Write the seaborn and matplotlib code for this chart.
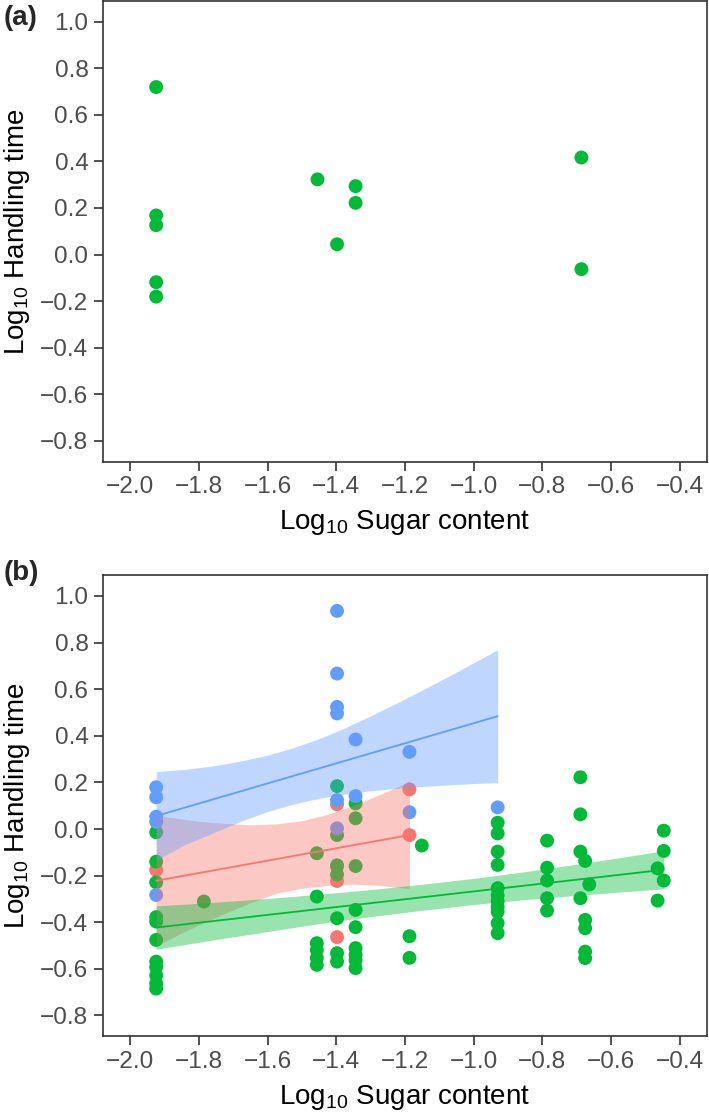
import matplotlib
matplotlib.use("Agg")
import matplotlib.pyplot as plt
import seaborn as sns
import pandas as pd

# ---------------- data ----------------
groups = ["red", "green", "blue"]
colors = {"red": "#F8766D", "green": "#00BA38", "blue": "#619CFF"}

# panel (a): green only
a_x = [-1.925, -1.925, -1.925, -1.925, -1.925, -1.455, -1.398, -1.344, -1.344, -0.686, -0.686]
a_y = [0.720, 0.168, 0.126, -0.119, -0.181, 0.323, 0.044, 0.294, 0.222, 0.417, -0.063]

# panel (b)
red_x = [-1.925, -1.398, -1.398, -1.398, -1.398, -1.187, -1.187]
red_y = [-0.176, 0.106, -0.161, -0.223, -0.464, 0.170, -0.026]

green_x = ([-1.925] * 11 + [-1.786] + [-1.457] * 6 + [-1.398] * 7 + [-1.344] * 9
           + [-1.187] * 2 + [-1.151] + [-0.930] * 11 + [-0.786] * 5 + [-0.689] * 4
           + [-0.675] * 5 + [-0.663] + [-0.464] * 2 + [-0.446] * 3)
green_y = ([-0.014, -0.140, -0.229, -0.378, -0.397, -0.476, -0.569, -0.592, -0.628, -0.663, -0.685]
           + [-0.311]
           + [-0.104, -0.290, -0.490, -0.519, -0.554, -0.583]
           + [0.184, -0.026, -0.156, -0.195, -0.383, -0.533, -0.569]
           + [0.110, 0.046, -0.159, -0.347, -0.421, -0.511, -0.540, -0.564, -0.597]
           + [-0.460, -0.553]
           + [-0.071]
           + [0.027, -0.019, -0.097, -0.154, -0.254, -0.285, -0.310, -0.335, -0.355, -0.404, -0.447]
           + [-0.050, -0.166, -0.221, -0.297, -0.350]
           + [0.222, 0.063, -0.097, -0.297]
           + [-0.137, -0.390, -0.426, -0.526, -0.554]
           + [-0.238]
           + [-0.169, -0.307]
           + [-0.007, -0.094, -0.221])

blue_x = [-1.925] * 5 + [-1.398] * 6 + [-1.344] * 2 + [-1.187] * 2 + [-0.930]
blue_y = ([0.179, 0.136, 0.053, 0.031, -0.283]
          + [0.936, 0.667, 0.524, 0.496, 0.124, 0.003]
          + [0.384, 0.141]
          + [0.331, 0.072]
          + [0.093])

# fitted lines (endpoints)
red_line_x = [-1.925, -1.187]
red_line_y = [-0.222, -0.026]
green_line_x = [-1.925, -0.446]
green_line_y = [-0.423, -0.175]
blue_line_x = [-1.925, -0.930]
blue_line_y = [0.056, 0.484]

# confidence ribbons
red_band_x = [-1.925, -1.85, -1.80, -1.725, -1.65, -1.575, -1.50, -1.425, -1.35, -1.27, -1.187]
red_band_lo = [-0.502, -0.445, -0.411, -0.362, -0.316, -0.276, -0.254, -0.242, -0.237, -0.242, -0.256]
red_band_hi = [0.058, 0.043, 0.033, 0.024, 0.018, 0.022, 0.036, 0.063, 0.101, 0.150, 0.204]

green_band_x = [-1.925, -1.75, -1.60, -1.45, -1.30, -1.15, -1.00, -0.85, -0.70, -0.57, -0.446]
green_band_lo = [-0.516, -0.474, -0.440, -0.406, -0.376, -0.349, -0.324, -0.303, -0.285, -0.270, -0.257]
green_band_hi = [-0.330, -0.314, -0.298, -0.280, -0.260, -0.237, -0.212, -0.183, -0.151, -0.122, -0.093]

blue_band_x = [-1.925, -1.84, -1.75, -1.675, -1.60, -1.525, -1.45, -1.375, -1.30, -1.225, -1.15, -1.075, -1.00, -0.930]
blue_band_lo = [-0.134, -0.066, -0.011, 0.035, 0.075, 0.107, 0.132, 0.150, 0.164, 0.174, 0.182, 0.189, 0.195, 0.199]
blue_band_hi = [0.246, 0.256, 0.273, 0.293, 0.317, 0.349, 0.388, 0.434, 0.486, 0.540, 0.596, 0.654, 0.713, 0.769]

x_ticks = [-2.0, -1.8, -1.6, -1.4, -1.2, -1.0, -0.8, -0.6, -0.4]
x_tick_labels = ["\u22122.0", "\u22121.8", "\u22121.6", "\u22121.4", "\u22121.2",
                 "\u22121.0", "\u22120.8", "\u22120.6", "\u22120.4"]
y_ticks = [-0.8, -0.6, -0.4, -0.2, 0.0, 0.2, 0.4, 0.6, 0.8, 1.0]
y_tick_labels = ["\u22120.8", "\u22120.6", "\u22120.4", "\u22120.2", "0.0",
                 "0.2", "0.4", "0.6", "0.8", "1.0"]
x_title = "Log$_{\\mathregular{10}}$ Sugar content"
y_title = "Log$_{\\mathregular{10}}$ Handling time"
panel_labels = ["(a)", "(b)"]

# ---------------- style ----------------
sns.set_theme(style="ticks")
plt.rcParams['font.family'] = ['Liberation Sans', 'DejaVu Sans']
plt.rcParams['mathtext.fontset'] = 'custom'
plt.rcParams['mathtext.rm'] = 'Liberation Sans'
plt.rcParams['mathtext.it'] = 'Liberation Sans:italic'
plt.rcParams['mathtext.bf'] = 'Liberation Sans:bold'

W, H = 709, 1115
fig = plt.figure(figsize=(W / 100, H / 100), dpi=100)
fig.patch.set_facecolor("white")

def px_axes(left, top, right, bottom):
    return fig.add_axes([left / W, 1 - bottom / H, (right - left) / W, (bottom - top) / H])

ax_a = px_axes(103, 1.0, 707, 461.5)
ax_b = px_axes(103, 575, 707, 1036.4)

def style(ax):
    ax.set_xlim(-2.08, -0.32)
    ax.set_ylim(-0.89, 1.09)
    ax.set_xticks(x_ticks)
    ax.set_xticklabels(x_tick_labels)
    ax.set_yticks(y_ticks)
    ax.set_yticklabels(y_tick_labels)
    for sp in ax.spines.values():
        sp.set_visible(True)
        sp.set_color("#333333")
        sp.set_linewidth(1.2)
    ax.tick_params(axis="both", direction="out", length=6.5, width=1.2, color="#333333",
                   labelcolor="#4D4D4D", labelsize=17.6, pad=4)
    ax.set_xlabel(x_title, fontsize=20, color="black", labelpad=7)
    ax.set_ylabel(y_title, fontsize=20, color="black", labelpad=6)
    ax.set_facecolor("white")

# panel (a)
df_a = pd.DataFrame({"x": a_x, "y": a_y, "g": "green"})
sns.scatterplot(data=df_a, x="x", y="y", hue="g", palette=colors, s=100, linewidth=0,
                legend=False, ax=ax_a, zorder=2)
style(ax_a)

# panel (b)
df_b = pd.concat([
    pd.DataFrame({"x": red_x, "y": red_y, "g": "red"}),
    pd.DataFrame({"x": green_x, "y": green_y, "g": "green"}),
    pd.DataFrame({"x": blue_x, "y": blue_y, "g": "blue"}),
], ignore_index=True)
sns.scatterplot(data=df_b, x="x", y="y", hue="g", palette=colors, s=100, linewidth=0,
                legend=False, ax=ax_b, zorder=2)

bands = {
    "red": (red_band_x, red_band_lo, red_band_hi, red_line_x, red_line_y),
    "green": (green_band_x, green_band_lo, green_band_hi, green_line_x, green_line_y),
    "blue": (blue_band_x, blue_band_lo, blue_band_hi, blue_line_x, blue_line_y),
}
z = 3
for g in groups:
    bx, lo, hi, lx, ly = bands[g]
    ax_b.fill_between(bx, lo, hi, color=colors[g], alpha=0.4, linewidth=0, zorder=z)
    sns.lineplot(x=lx, y=ly, color=colors[g], linewidth=1.3, ax=ax_b, zorder=z + 1)
    z += 2
style(ax_b)

fig.text(4 / W, 1 - 18 / H, panel_labels[0], fontsize=20, fontweight="bold", va="center", ha="left")
fig.text(4 / W, 1 - 573 / H, panel_labels[1], fontsize=20, fontweight="bold", va="center", ha="left")

fig.savefig("out.png", dpi=100, facecolor="white")
